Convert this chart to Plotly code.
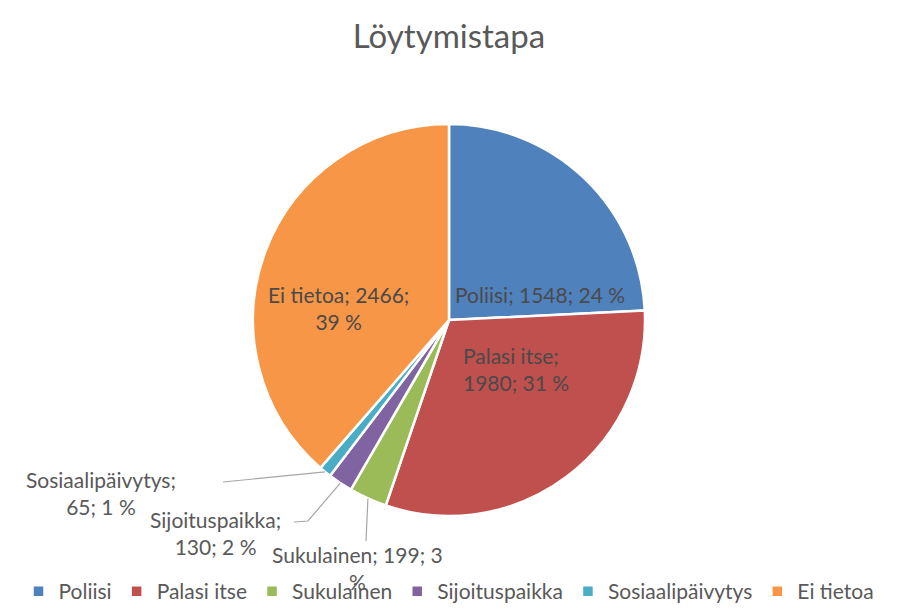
import math
import plotly.graph_objects as go

W, H = 898, 612

categories = ["Poliisi", "Palasi itse", "Sukulainen", "Sijoituspaikka", "Sosiaalipäivytys", "Ei tietoa"]
values = [1548, 1980, 199, 130, 65, 2466]
percent_labels = ["24 %", "31 %", "3 %", "2 %", "1 %", "39 %"]
colors = ["#4F81BD", "#C0504D", "#9BBB59", "#8064A2", "#4BACC6", "#F79646"]

FONT = "Lato"
GREY = "#595959"

# pie geometry (pixels)
CX, CY, R = 449, 320, 196


def px(x, y):
    return x / W, 1 - y / H


x0, y1 = px(CX - R, CY - R)
x1, y0 = px(CX + R, CY + R)

fig = go.Figure(go.Pie(
    labels=categories,
    values=values,
    sort=False,
    direction="clockwise",
    rotation=0,
    marker=dict(colors=colors, line=dict(color="white", width=2.5)),
    textinfo="none",
    hoverinfo="label+value+percent",
    domain=dict(x=[x0, x1], y=[y0, y1]),
))

# label placement (pixel centres of text blocks) and leader-line bends
label_pos = {
    "Poliisi": (540, 294),
    "Palasi itse": (516, 369),
    "Ei tietoa": (338, 308),
    "Sosiaalipäivytys": (101, 493),
    "Sijoituspaikka": (215, 533),
    "Sukulainen": (357, 568),
}
inside = {"Poliisi", "Palasi itse", "Ei tietoa"}
leader_ends = {
    "Sosiaalipäivytys": [(223, 482)],
    "Sijoituspaikka": [(308, 521), (294, 522)],
    "Sukulainen": [(366, 541)],
}

total = sum(values)
cum = 0
for cat, v, pct in zip(categories, values, percent_labels):
    mid = (cum + v / 2) / total * 2 * math.pi
    cum += v
    tx, ty = label_pos[cat]
    if cat == "Poliisi":
        text = f"{cat}; {v}; {pct}"
    elif cat == "Palasi itse":
        text = f"{cat};<br>{v}; {pct}"
    elif cat == "Ei tietoa":
        text = f"{cat}; {v};<br>{pct}"
    elif cat == "Sukulainen":
        text = f"{cat}; {v}; {pct.split(' ')[0]}<br>%"
    else:
        text = f"{cat};<br>{v}; {pct}"
    ax_, ay_ = px(tx, ty)
    fig.add_annotation(
        x=ax_, y=ay_, xref="paper", yref="paper", text=text, showarrow=False,
        font=dict(family=FONT, size=21, color="#4a4a4a" if cat in inside else GREY),
        align="left" if cat == "Palasi itse" else "center",
        xanchor="center", yanchor="middle",
    )
    if cat in leader_ends:
        sx = CX + R * math.sin(mid)
        sy = CY - R * math.cos(mid)
        pts = [(sx, sy)] + leader_ends[cat]
        path = "M " + " L ".join(f"{px(a, b)[0]},{px(a, b)[1]}" for a, b in pts)
        fig.add_shape(type="path", path=path, xref="paper", yref="paper",
                      line=dict(color="#A6A6A6", width=1.2))

fig.update_layout(
    width=W, height=H,
    margin=dict(l=0, r=0, t=0, b=0),
    paper_bgcolor="white",
    title=dict(text="Löytymistapa", x=0.5, xanchor="center", y=1 - 36 / H, yanchor="middle",
               font=dict(family=FONT, size=33, color=GREY)),
    font=dict(family=FONT, color=GREY),
    legend=dict(orientation="h", x=0.5, xanchor="center", y=0, yanchor="bottom",
                font=dict(family=FONT, size=21, color=GREY)),
    showlegend=True,
)

fig.write_html("out.html")
